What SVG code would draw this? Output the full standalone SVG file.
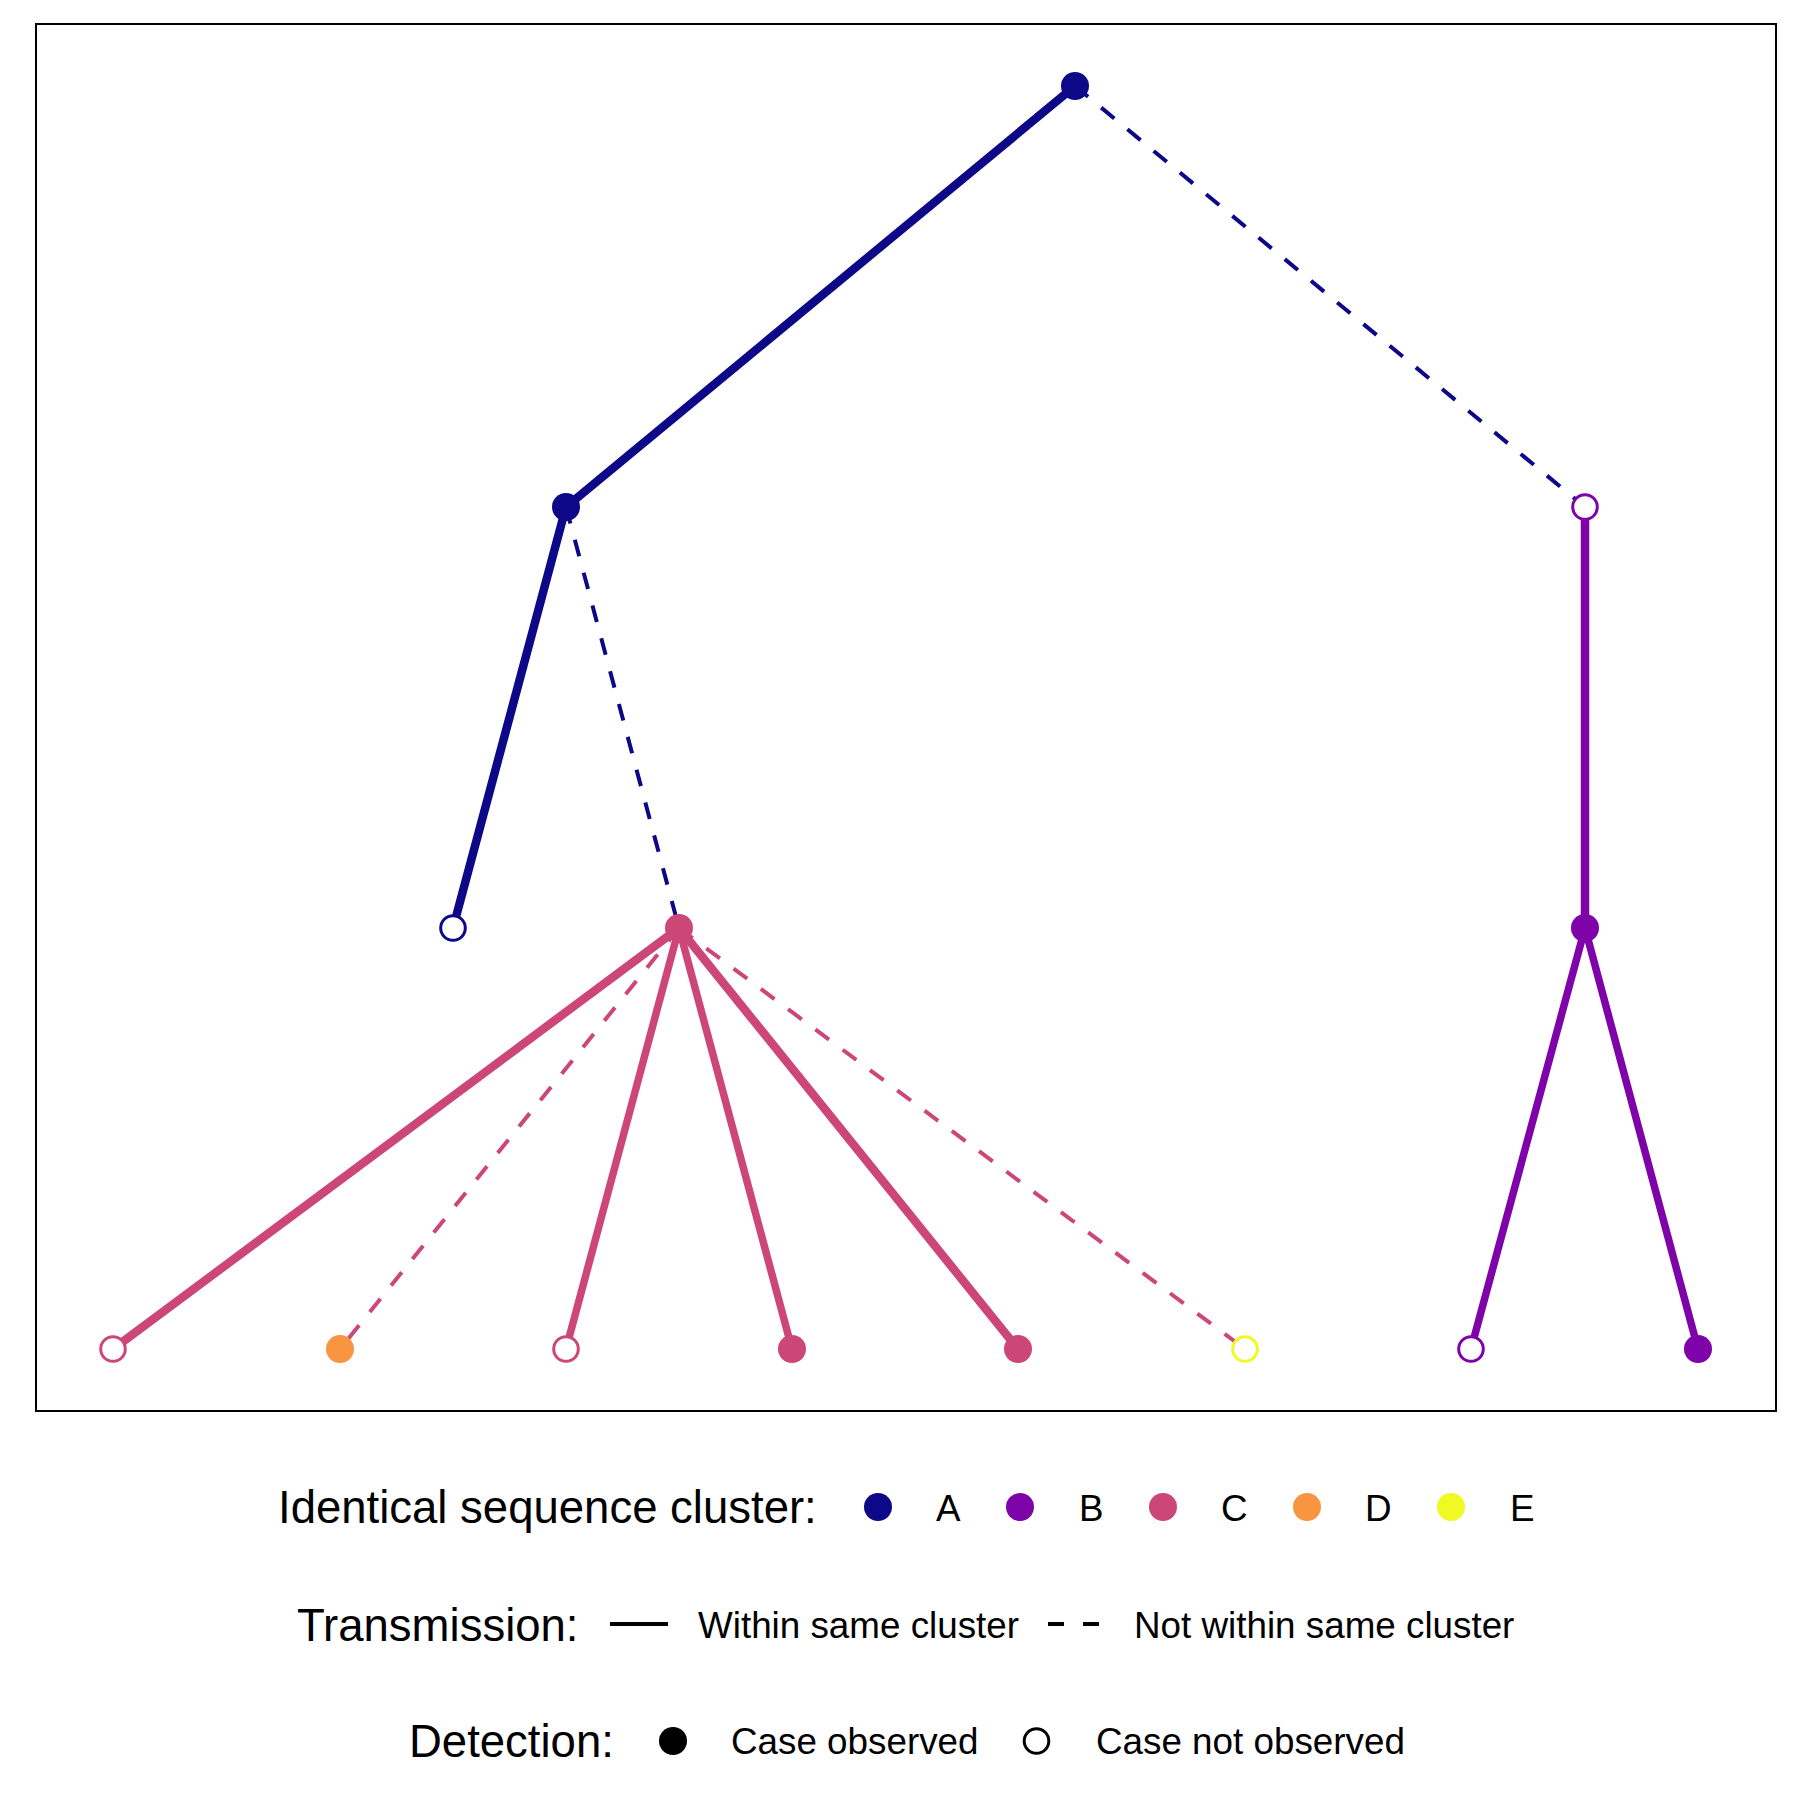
<svg xmlns="http://www.w3.org/2000/svg" width="1800" height="1800" viewBox="0 0 1800 1800">
<style>
.t{font-family:"Liberation Sans",Arial,sans-serif;fill:#000}
.ttl{font-size:45.5px}
.lab{font-size:36.8px}
.e{fill:none;stroke-linecap:butt}
.s{stroke-width:8.5}
.d{stroke-width:4;stroke-dasharray:17 17}
.A{stroke:#0D0887}.B{stroke:#7E03A8}.C{stroke:#CC4778}
.o{fill:#fff;stroke-width:3}
</style>
<rect x="0" y="0" width="1800" height="1800" fill="#fff"/>
<rect x="36" y="24" width="1740" height="1387" fill="none" stroke="#000" stroke-width="2"/>
<g id="connectors">
<line class="e s A" x1="1075" y1="86" x2="566" y2="507"/>
<line class="e d A" x1="1075" y1="86" x2="1585" y2="507"/>
<line class="e s A" x1="566" y1="507" x2="453" y2="928"/>
<line class="e d A" x1="566" y1="507" x2="679" y2="928"/>
<line class="e s B" x1="1585" y1="507" x2="1585" y2="928"/>
<line class="e s C" x1="679" y1="928" x2="113" y2="1349"/>
<line class="e d C" x1="679" y1="928" x2="340" y2="1349"/>
<line class="e s C" x1="679" y1="928" x2="566" y2="1349" style="stroke-width:7.5"/>
<line class="e s C" x1="679" y1="928" x2="792" y2="1349" style="stroke-width:7.5"/>
<line class="e s C" x1="679" y1="928" x2="1018" y2="1349"/>
<line class="e d C" x1="679" y1="928" x2="1245" y2="1349"/>
<line class="e s B" x1="1585" y1="928" x2="1471" y2="1349" style="stroke-width:7.5"/>
<line class="e s B" x1="1585" y1="928" x2="1698" y2="1349" style="stroke-width:7.5"/>
</g>
<g id="n1"><circle cx="1075" cy="86" r="14" fill="#0D0887"/></g>
<g id="n2"><circle cx="566" cy="507" r="14" fill="#0D0887"/></g>
<g id="n3"><circle cx="1585" cy="507" r="12.3" class="o B"/></g>
<g id="n4"><circle cx="453" cy="928" r="12.3" class="o A"/></g>
<g id="n5"><circle cx="679" cy="928" r="14" fill="#CC4778"/></g>
<g id="n6"><circle cx="1585" cy="928" r="14" fill="#7E03A8"/></g>
<g id="n7"><circle cx="113" cy="1349" r="12.3" class="o C"/></g>
<g id="n8"><circle cx="340" cy="1349" r="14" fill="#F89540"/></g>
<g id="n9"><circle cx="566" cy="1349" r="12.3" class="o C"/></g>
<g id="n10"><circle cx="792" cy="1349" r="14" fill="#CC4778"/></g>
<g id="n11"><circle cx="1018" cy="1349" r="14" fill="#CC4778"/></g>
<g id="n12"><circle cx="1245" cy="1349" r="12.3" class="o" stroke="#F0F921"/></g>
<g id="n13"><circle cx="1471" cy="1349" r="12.3" class="o B"/></g>
<g id="n14"><circle cx="1698" cy="1349" r="14" fill="#7E03A8"/></g>
<g id="legend-cluster">
<text class="t ttl" x="278" y="1523">Identical sequence cluster:</text>
<circle cx="878" cy="1507" r="14" fill="#0D0887"/>
<text class="t lab" x="936" y="1520.5">A</text>
<circle cx="1020" cy="1507" r="14" fill="#7E03A8"/>
<text class="t lab" x="1079" y="1520.5">B</text>
<circle cx="1163" cy="1507" r="14" fill="#CC4778"/>
<text class="t lab" x="1221" y="1520.5">C</text>
<circle cx="1307" cy="1507" r="14" fill="#F89540"/>
<text class="t lab" x="1365" y="1520.5">D</text>
<circle cx="1451" cy="1507" r="14" fill="#F0F921"/>
<text class="t lab" x="1510" y="1520.5">E</text>
</g>
<g id="legend-transmission">
<text class="t ttl" x="297" y="1641">Transmission:</text>
<line x1="610" y1="1624" x2="668" y2="1624" stroke="#000" stroke-width="4"/>
<text class="t lab" x="698" y="1638">Within same cluster</text>
<line x1="1048" y1="1624" x2="1100" y2="1624" stroke="#000" stroke-width="4" stroke-dasharray="16 19"/>
<text class="t lab" x="1134" y="1638">Not within same cluster</text>
</g>
<g id="legend-detection">
<text class="t ttl" x="409" y="1757">Detection:</text>
<circle cx="673" cy="1741" r="14" fill="#000"/>
<text class="t lab" x="731" y="1754">Case observed</text>
<circle cx="1036.5" cy="1741" r="12.3" fill="#fff" stroke="#000" stroke-width="3"/>
<text class="t lab" x="1096" y="1754">Case not observed</text>
</g>
</svg>
